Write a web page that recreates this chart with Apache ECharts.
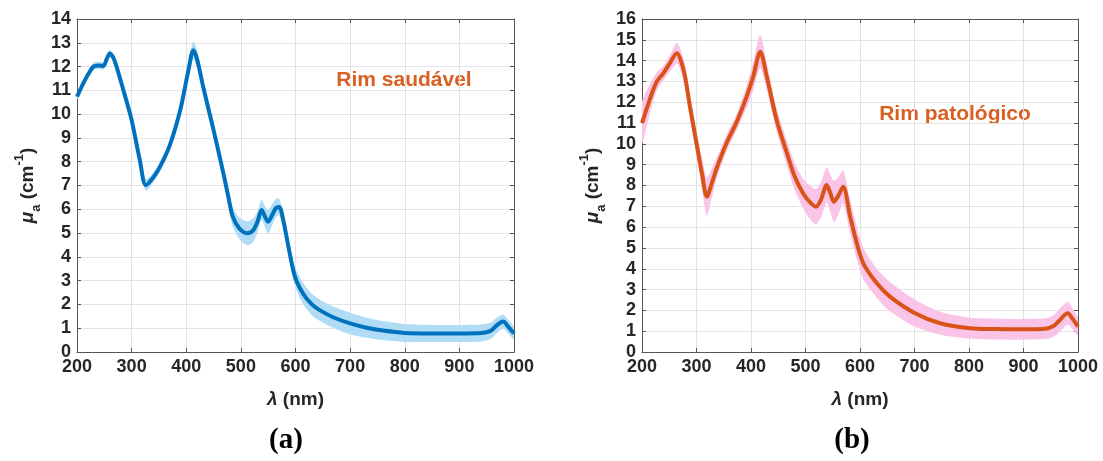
<!DOCTYPE html>
<html>
<head>
<meta charset="utf-8">
<script src="https://cdn.jsdelivr.net/npm/echarts/dist/echarts.min.js"></script>
<style>
html,body{margin:0;padding:0;background:#fff;}
#chart{width:1103px;height:461px;}
</style>
</head>
<body>
<div id="chart"></div>
<script>
// ---- Data: (a) Rim saudável ----
const healthyWl = [200,215,230,240,248,255,260,268,285,300,315,326,340,352,370,389,404,413,420,431,450,468,477,485,497,511,522,530,538,545,550,557,564,570,578,587,599,614,630,645,670,700,730,760,800,850,900,940,958,970,980,990,1000];
const healthyMu = [10.73,11.45,12.0,12.05,12.02,12.35,12.55,12.3,11.0,9.75,8.07,7.02,7.35,7.79,8.7,10.17,11.85,12.69,12.3,11.15,9.33,7.51,6.53,5.7,5.2,4.99,5.1,5.45,5.97,5.65,5.48,5.75,6.05,6.1,5.5,4.43,3.17,2.45,2.0,1.75,1.45,1.2,1.02,0.9,0.8,0.78,0.78,0.8,0.9,1.15,1.28,1.05,0.78];
const healthySd = [0.12,0.12,0.15,0.15,0.15,0.15,0.15,0.15,0.15,0.2,0.25,0.25,0.2,0.2,0.2,0.25,0.3,0.38,0.35,0.3,0.25,0.3,0.35,0.4,0.45,0.5,0.5,0.45,0.42,0.45,0.5,0.45,0.38,0.35,0.35,0.35,0.4,0.45,0.45,0.45,0.45,0.45,0.42,0.4,0.38,0.36,0.36,0.36,0.34,0.32,0.3,0.28,0.25];

// ---- Data: (b) Rim patológico ----
const pathWl = [200,215,227,239,251,264,272,279,288,300,310,319,328,337,355,374,392,404,417,429,447,466,480,496,508,519,528,539,546,552,560,569,582,591,606,631,655,701,747,802,850,899,940,955,964,981,990,1000];
const pathMu = [11.0,12.19,12.99,13.39,13.87,14.35,13.95,13.23,11.79,10.03,8.59,7.46,8.1,8.83,10.03,11.07,12.27,13.23,14.43,13.23,11.15,9.55,8.45,7.6,7.2,6.98,7.3,8.02,7.6,7.22,7.5,7.94,6.5,5.54,4.26,3.3,2.66,1.86,1.38,1.14,1.1,1.09,1.12,1.25,1.46,1.86,1.6,1.22];
const pathSd = [1.0,0.7,0.45,0.35,0.4,0.5,0.5,0.55,0.6,0.6,0.75,0.9,0.7,0.5,0.4,0.4,0.55,0.7,0.8,0.65,0.55,0.6,0.65,0.7,0.8,0.85,0.85,0.85,0.9,1.0,0.9,0.8,0.8,0.8,0.75,0.7,0.7,0.65,0.55,0.5,0.5,0.5,0.5,0.52,0.55,0.55,0.5,0.4];

const xTicks = {min:200, max:1000, interval:100};
const yMaxA = 14, yMaxB = 16;

const FONT = '"Liberation Sans", Arial, sans-serif';
const AXIS_COLOR = '#555555';
const GRID_COLOR = '#e3e3e3';
const LABEL_COLOR = '#262626';

function pairs(wl, arr){ return wl.map((w,i)=>[w, arr[i]]); }

const nameRich = {
  mu:{fontFamily:FONT, fontStyle:'italic', fontWeight:'bold', fontSize:19, color:LABEL_COLOR, lineHeight:30, verticalAlign:'middle'},
  sub:{fontFamily:FONT, fontWeight:'bold', fontSize:13, color:LABEL_COLOR, lineHeight:30, verticalAlign:'bottom'},
  sup:{fontFamily:FONT, fontWeight:'bold', fontSize:13, color:LABEL_COLOR, lineHeight:30, verticalAlign:'top'},
  r:{fontFamily:FONT, fontWeight:'bold', fontSize:19, color:LABEL_COLOR, lineHeight:30, verticalAlign:'middle'},
  l:{fontFamily:FONT, fontStyle:'italic', fontWeight:'bold', fontSize:19, color:LABEL_COLOR}
};

function xAxes(gi){
  return [
    {gridIndex:gi, type:'value', position:'bottom', min:xTicks.min, max:xTicks.max, interval:xTicks.interval,
     name:'{l|λ}{r| (nm)}', nameLocation:'middle', nameGap:33,
     nameTextStyle:{rich:nameRich},
     axisLine:{show:true, onZero:false, lineStyle:{color:AXIS_COLOR, width:1}},
     axisTick:{show:true, inside:true, length:4, lineStyle:{color:AXIS_COLOR}},
     axisLabel:{show:true, fontFamily:FONT, fontWeight:'bold', fontSize:18, color:LABEL_COLOR, margin:6, hideOverlap:false,
       formatter:v=>String(v)},
     splitLine:{show:true, lineStyle:{color:GRID_COLOR, width:1}}},
    {gridIndex:gi, type:'value', position:'top', min:xTicks.min, max:xTicks.max, interval:xTicks.interval,
     axisLine:{show:true, onZero:false, lineStyle:{color:AXIS_COLOR, width:1}},
     axisTick:{show:true, inside:true, length:4, lineStyle:{color:AXIS_COLOR}},
     axisLabel:{show:false}, splitLine:{show:false}}
  ];
}
function yAxes(gi, ymax){
  return [
    {gridIndex:gi, type:'value', position:'left', min:0, max:ymax, interval:1,
     name:'{mu|μ}{sub|a}{r| (cm}{sup|-1}{r|)}', nameLocation:'middle', nameGap:34,
     nameTextStyle:{rich:nameRich},
     axisLine:{show:true, onZero:false, lineStyle:{color:AXIS_COLOR, width:1}},
     axisTick:{show:true, inside:true, length:4, lineStyle:{color:AXIS_COLOR}},
     axisLabel:{show:true, fontFamily:FONT, fontWeight:'bold', fontSize:18, color:LABEL_COLOR, margin:6},
     splitLine:{show:true, lineStyle:{color:GRID_COLOR, width:1}}},
    {gridIndex:gi, type:'value', position:'right', min:0, max:ymax, interval:1,
     axisLine:{show:true, onZero:false, lineStyle:{color:AXIS_COLOR, width:1}},
     axisTick:{show:true, inside:true, length:4, lineStyle:{color:AXIS_COLOR}},
     axisLabel:{show:false}, splitLine:{show:false}}
  ];
}

function bandSeries(xi, yi, wl, mu, sd, bandColor){
  return {
    type:'custom', xAxisIndex:xi, yAxisIndex:yi, silent:true, z:1,
    data:[[wl[0], mu[0]]],
    clip:true,
    renderItem:function(params, api){
      const up = wl.map((w,i)=>api.coord([w, mu[i]+sd[i]]));
      const lo = wl.map((w,i)=>api.coord([w, mu[i]-sd[i]])).reverse();
      return {type:'polygon', shape:{points:up.concat(lo), smooth:0.25}, style:{fill:bandColor, stroke:null}};
    }
  };
}
function lineSeries(xi, yi, wl, mu, lineColor){
  return {type:'line', xAxisIndex:xi, yAxisIndex:yi, data:pairs(wl,mu), symbol:'none', smooth:0.3,
    lineStyle:{color:lineColor, width:4}, z:3, silent:true};
}

const chart = echarts.init(document.getElementById('chart'), null, {renderer:'canvas'});
chart.setOption({
  animation:false,
  backgroundColor:'#ffffff',
  grid:[
    {left:77, top:19, width:437, height:333, containLabel:false, outerBoundsMode:'none', show:false},
    {left:642, top:19, width:436, height:333, containLabel:false, outerBoundsMode:'none', show:false}
  ],
  xAxis:[...xAxes(0), ...xAxes(1)],
  yAxis:[...yAxes(0,yMaxA), ...yAxes(1,yMaxB)],
  series:[
    bandSeries(0,0,healthyWl,healthyMu,healthySd,'#b0dcf6'),
    lineSeries(0,0,healthyWl,healthyMu,'#0072BD'),
    bandSeries(2,2,pathWl,pathMu,pathSd,'#fac3e8'),
    lineSeries(2,2,pathWl,pathMu,'#D95319')
  ],
  graphic:[
    {type:'text', x:404, y:80, style:{text:'Rim saudável', fill:'#D95F22', fontFamily:FONT, fontWeight:'bold', fontSize:21, align:'center', verticalAlign:'middle'}},
    {type:'text', x:955, y:114, style:{text:'Rim patológico', fill:'#D95F22', fontFamily:FONT, fontWeight:'bold', fontSize:21, align:'center', verticalAlign:'middle'}},
    {type:'text', x:286, y:441, style:{text:'(a)', fill:'#000', fontFamily:'"Liberation Serif", "Times New Roman", serif', fontWeight:'bold', fontSize:29, align:'center', verticalAlign:'middle'}},
    {type:'text', x:852, y:441, style:{text:'(b)', fill:'#000', fontFamily:'"Liberation Serif", "Times New Roman", serif', fontWeight:'bold', fontSize:29, align:'center', verticalAlign:'middle'}}
  ]
});
</script>
</body>
</html>
